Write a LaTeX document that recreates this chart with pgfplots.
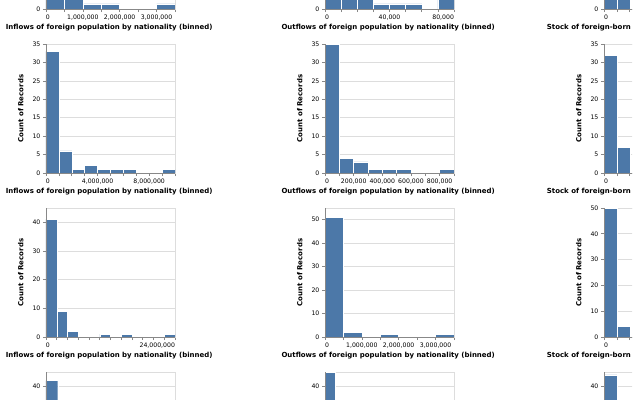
\documentclass[border=0pt]{standalone}
\usepackage{pgfplots}
\pgfplotsset{compat=1.18}
\usepackage{fontspec}
\setmainfont{DejaVu Sans}
\definecolor{barblue}{HTML}{4C78A8}
\definecolor{gridc}{HTML}{DDDDDD}
\definecolor{domc}{HTML}{888888}
\pgfplotsset{
  hist/.style={
    scale only axis, width=129bp, height=129bp, anchor=south west,
    xmin=0, ymin=0,
    axis line style={draw=gridc, line width=0.64bp},
    ymajorgrids, grid style={draw=gridc, line width=0.64bp},
    tick align=outside, tick pos=left, major tick length=3.2bp,
    tick style={draw=domc, line width=0.64bp},
    tick label style={font=\fontsize{6.2}{7.5}\selectfont},
    /pgf/number format/assume math mode=true,
    yticklabel style={anchor=east, inner sep=0pt, xshift=-2.2bp},
    xticklabel style={anchor=north, inner sep=0pt, yshift=-2.5bp},
    ylabel={Count of Records},
    ylabel style={font=\bfseries\fontsize{7}{8}\selectfont, at={(axis description cs:-0.196,0.5)}, anchor=center},
    xlabel style={font=\bfseries\fontsize{7}{8}\selectfont, at={(axis description cs:0.49,-0.143)}, anchor=center},
    extra description/.code={\draw[domc, line width=0.64bp] (0,1) -- (0,0) -- (1,0);},
  },
  stock/.style={xlabel style={at={(axis description cs:0.416,-0.143)}}},
  bars/.style={ybar interval, fill=barblue, draw=white, line width=0.45bp},
}
\begin{document}
\begin{tikzpicture}
\useasboundingbox (0bp,0bp) rectangle (640bp,-400bp);
\clip (0bp,0bp) rectangle (632bp,-400bp);
% ---------- row 1 ----------
\begin{axis}[hist, at={(46bp,-9bp)}, xmax=7, ymax=25, ytick distance=5,
  xtick={0,...,7}, xticklabels={{\makebox[0pt][l]{0}},,{1,000,000},,{2,000,000},,{3,000,000},},
  xlabel={Inflows of foreign population by nationality (binned)}]
\addplot[bars] coordinates {(0,20) (1,14) (2,1) (3,1) (4,0) (5,0) (6,1) (7,0)};
\end{axis}
\begin{axis}[hist, at={(325bp,-9bp)}, xmax=8, ymax=25, ytick distance=5,
  xtick={0,...,8}, xticklabels={{\makebox[0pt][l]{0}},,,,{40,000},,,,{\makebox[0pt][r]{80,000}}},
  xlabel={Outflows of foreign population by nationality (binned)}]
\addplot[bars] coordinates {(0,18) (1,15) (2,12) (3,1) (4,1) (5,1) (6,0) (7,10) (8,0)};
\end{axis}
\begin{axis}[hist, stock, at={(604bp,-9bp)}, xmax=10, ymax=25, ytick distance=5,
  xtick={0,...,10}, xticklabels={{\makebox[0pt][l]{0}}},
  xlabel={Stock of foreign-born population by nationality (binned)}]
\addplot[bars] coordinates {(0,20) (1,8) (2,0) (3,0) (4,0) (5,0) (6,0) (7,0) (8,0) (9,0) (10,0)};
\end{axis}
% ---------- row 2 ----------
\begin{axis}[hist, at={(46bp,-173bp)}, xmax=10, ymax=35, ytick distance=5,
  xtick={0,...,10}, xticklabels={{\makebox[0pt][l]{0}},,,,{4,000,000},,,,{8,000,000},,},
  xlabel={Inflows of foreign population by nationality (binned)}]
\addplot[bars] coordinates {(0,33) (1,6) (2,1) (3,2) (4,1) (5,1) (6,1) (7,0) (8,0) (9,1) (10,0)};
\end{axis}
\begin{axis}[hist, at={(325bp,-173bp)}, xmax=9, ymax=35, ytick distance=5,
  xtick={0,...,9}, xticklabels={{\makebox[0pt][l]{0}},,{200,000},,{400,000},,{600,000},,{800,000},},
  xlabel={Outflows of foreign population by nationality (binned)}]
\addplot[bars] coordinates {(0,35) (1,4) (2,3) (3,1) (4,1) (5,1) (6,0) (7,0) (8,1) (9,0)};
\end{axis}
\begin{axis}[hist, stock, at={(604bp,-173bp)}, xmax=10, ymax=35, ytick distance=5,
  xtick={0,...,10}, xticklabels={{\makebox[0pt][l]{0}}},
  xlabel={Stock of foreign-born population by nationality (binned)}]
\addplot[bars] coordinates {(0,32) (1,7) (2,0) (3,0) (4,0) (5,0) (6,0) (7,0) (8,0) (9,0) (10,0)};
\end{axis}
% ---------- row 3 ----------
\begin{axis}[hist, at={(46bp,-337bp)}, xmax=12, ymax=45, ytick distance=10,
  xtick={0,...,12}, xticklabels={{\makebox[0pt][l]{0}},,,,,,,,,,,,{\makebox[0pt][r]{24,000,000}}},
  xlabel={Inflows of foreign population by nationality (binned)}]
\addplot[bars] coordinates {(0,41) (1,9) (2,2) (3,0) (4,0) (5,1) (6,0) (7,1) (8,0) (9,0) (10,0) (11,1) (12,0)};
\end{axis}
\begin{axis}[hist, at={(325bp,-337bp)}, xmax=7, ymax=55, ytick distance=10,
  xtick={0,...,7}, xticklabels={{\makebox[0pt][l]{0}},,{1,000,000},,{2,000,000},,{3,000,000},},
  xlabel={Outflows of foreign population by nationality (binned)}]
\addplot[bars] coordinates {(0,51) (1,2) (2,0) (3,1) (4,0) (5,0) (6,1) (7,0)};
\end{axis}
\begin{axis}[hist, stock, at={(604bp,-337bp)}, xmax=10, ymax=50, ytick distance=10,
  xtick={0,...,10}, xticklabels={{\makebox[0pt][l]{0}}},
  xlabel={Stock of foreign-born population by nationality (binned)}]
\addplot[bars] coordinates {(0,50) (1,4) (2,0) (3,0) (4,0) (5,0) (6,0) (7,0) (8,0) (9,0) (10,0)};
\end{axis}
% ---------- row 4 ----------
\begin{axis}[hist, at={(46bp,-501bp)}, xmax=11, ymax=45, ytick distance=10,
  xtick={0,...,11}, xticklabels={{\makebox[0pt][l]{0}}},
  xlabel={Inflows of foreign population by nationality (binned)}]
\addplot[bars] coordinates {(0,42) (1,6) (2,2) (3,1) (4,0) (5,0) (6,0) (7,0) (8,0) (9,0) (10,1) (11,0)};
\end{axis}
\begin{axis}[hist, at={(325bp,-501bp)}, xmax=13, ymax=45, ytick distance=10,
  xtick={0,...,13}, xticklabels={{\makebox[0pt][l]{0}}},
  xlabel={Outflows of foreign population by nationality (binned)}]
\addplot[bars] coordinates {(0,45) (1,3) (2,1) (3,0) (4,0) (5,0) (6,0) (7,0) (8,0) (9,0) (10,0) (11,0) (12,1) (13,0)};
\end{axis}
\begin{axis}[hist, stock, at={(604bp,-501bp)}, xmax=10, ymax=45, ytick distance=10,
  xtick={0,...,10}, xticklabels={{\makebox[0pt][l]{0}}},
  xlabel={Stock of foreign-born population by nationality (binned)}]
\addplot[bars] coordinates {(0,44) (1,5) (2,0) (3,0) (4,0) (5,0) (6,0) (7,0) (8,0) (9,0) (10,0)};
\end{axis}
\end{tikzpicture}
\end{document}
